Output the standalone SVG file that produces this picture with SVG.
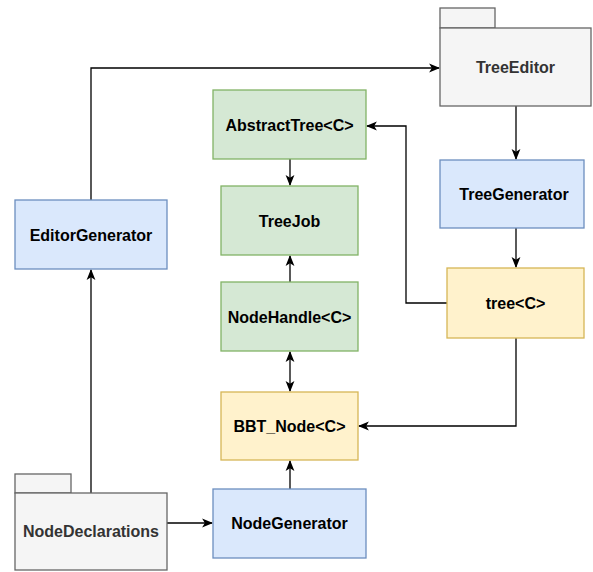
<svg xmlns="http://www.w3.org/2000/svg" width="593" height="572" viewBox="0 0 593 572">
<style>
.g{fill:#d5e8d4;stroke:#82b366;stroke-width:1.3}
.b{fill:#dae8fc;stroke:#6c8ebf;stroke-width:1.3}
.y{fill:#fff2cc;stroke:#d6b656;stroke-width:1.3}
.p{fill:#f5f5f5;stroke:#666666;stroke-width:1.3}
text{font-family:"Liberation Sans",Arial,sans-serif;font-size:16px;font-weight:bold;text-anchor:middle;dominant-baseline:central;fill:#000}
.pt{fill:#333333}
.e{fill:none;stroke:#000;stroke-width:1.3}
</style>
<defs>
<marker id="ah" viewBox="0 0 10 10" refX="9" refY="5" markerWidth="11" markerHeight="11" markerUnits="userSpaceOnUse" orient="auto-start-reverse">
<path d="M0,1 L10,5 L0,9 L2.5,5 Z" fill="#000"/>
</marker>
</defs>
<rect width="593" height="572" fill="#fff"/>
<g id="connectors">
<path class="e" d="M91,200 V68 H439" marker-end="url(#ah)"/>
<path class="e" d="M516,106 V159" marker-end="url(#ah)"/>
<path class="e" d="M516,228 V267" marker-end="url(#ah)"/>
<path class="e" d="M447,303 H406 V126 H367" marker-end="url(#ah)"/>
<path class="e" d="M516,338 V426 H359" marker-end="url(#ah)"/>
<path class="e" d="M290,159 V185" marker-end="url(#ah)"/>
<path class="e" d="M290,282 V256" marker-end="url(#ah)"/>
<path class="e" d="M290,352 V391" marker-start="url(#ah)" marker-end="url(#ah)"/>
<path class="e" d="M290,489 V461" marker-end="url(#ah)"/>
<path class="e" d="M91,493 V270" marker-end="url(#ah)"/>
<path class="e" d="M167,523 H212" marker-end="url(#ah)"/>
</g>
<g id="TreeEditor">
<rect class="p" x="440" y="8" width="55" height="20"/>
<rect class="p" x="440" y="28" width="151" height="78"/>
<text class="pt" x="515.5" y="67">TreeEditor</text>
</g>
<g id="AbstractTree">
<rect class="g" x="213" y="90" width="153" height="69"/>
<text x="289.5" y="125">AbstractTree&lt;C&gt;</text>
</g>
<g id="TreeJob">
<rect class="g" x="221" y="186" width="137" height="69"/>
<text x="289.5" y="221">TreeJob</text>
</g>
<g id="TreeGenerator">
<rect class="b" x="440" y="160" width="144" height="68"/>
<text x="514" y="194">TreeGenerator</text>
</g>
<g id="EditorGenerator">
<rect class="b" x="15" y="200" width="152" height="69"/>
<text x="91" y="235">EditorGenerator</text>
</g>
<g id="tree">
<rect class="y" x="447" y="268" width="137" height="70"/>
<text x="515.5" y="303">tree&lt;C&gt;</text>
</g>
<g id="NodeHandle">
<rect class="g" x="221" y="282" width="137" height="69"/>
<text x="289.5" y="317">NodeHandle&lt;C&gt;</text>
</g>
<g id="BBT_Node">
<rect class="y" x="221" y="392" width="137" height="68"/>
<text x="289.5" y="426">BBT_Node&lt;C&gt;</text>
</g>
<g id="NodeDeclarations">
<rect class="p" x="15" y="474" width="56" height="19"/>
<rect class="p" x="15" y="493" width="152" height="77"/>
<text class="pt" x="91" y="531">NodeDeclarations</text>
</g>
<g id="NodeGenerator">
<rect class="b" x="213" y="489" width="153" height="69"/>
<text x="289.5" y="523">NodeGenerator</text>
</g>
</svg>
